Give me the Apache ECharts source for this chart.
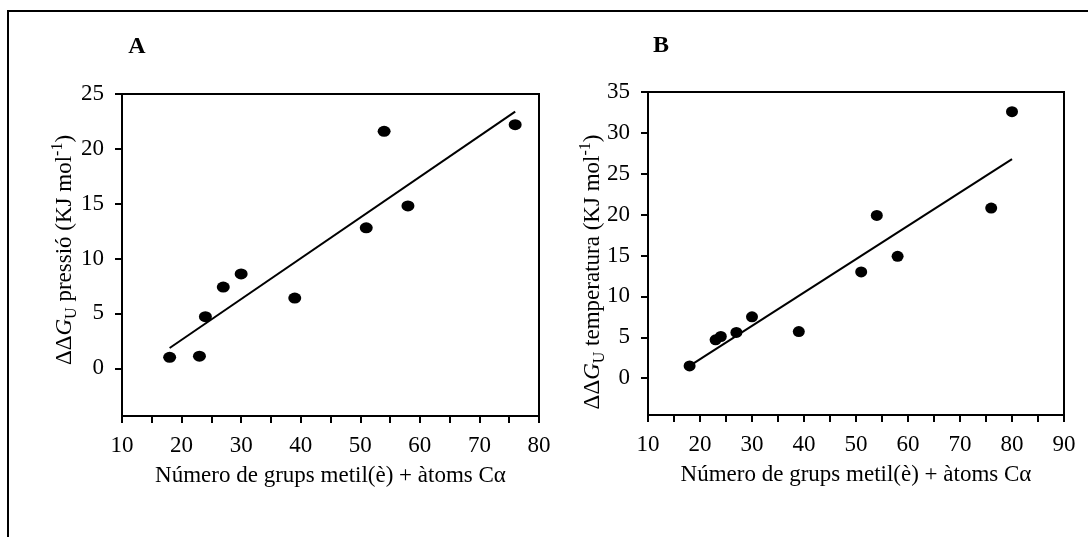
<!DOCTYPE html>
<html>
<head>
<meta charset="utf-8">
<script src="https://cdn.jsdelivr.net/npm/echarts@6/dist/echarts.min.js"></script>
<style>
  html, body { margin: 0; padding: 0; background: #fff; }
  #chart { width: 1088px; height: 537px; }
</style>
</head>
<body>
<div id="chart"></div>
<script>
// Panel A: ΔΔG_U from pressure denaturation vs. methyl groups + Cα atoms
const xPressio = [18, 23, 24, 27, 30, 39, 51, 54, 58, 76];
const yPressio = [1.0, 1.1, 4.7, 7.4, 8.6, 6.4, 12.8, 21.6, 14.8, 22.2];
const fitPressio = [[18, 1.85], [76, 23.4]];

// Panel B: ΔΔG_U from thermal denaturation vs. methyl groups + Cα atoms
const xTemp = [18, 23, 24, 27, 30, 39, 51, 54, 58, 76, 80];
const yTemp = [1.5, 4.7, 5.1, 5.6, 7.5, 5.7, 13.0, 19.9, 14.9, 20.8, 32.6];
const fitTemp = [[18, 1.5], [80, 26.8]];

// Tick positions and labels
const xTicksA = [10, 15, 20, 25, 30, 35, 40, 45, 50, 55, 60, 65, 70, 75, 80];
const xLabelsA = [10, 20, 30, 40, 50, 60, 70, 80];
const yLabelsA = [0, 5, 10, 15, 20, 25];
const xTicksB = [10, 15, 20, 25, 30, 35, 40, 45, 50, 55, 60, 65, 70, 75, 80, 85, 90];
const xLabelsB = [10, 20, 30, 40, 50, 60, 70, 80, 90];
const yLabelsB = [0, 5, 10, 15, 20, 25, 30, 35];

const xName = 'Número de grups metil(è) + àtoms Cα';
const FONT = '"Liberation Serif", "Times New Roman", serif';
const FS = 23;
const INK = '#000';

function xAxisFor(gridIndex, min, max, ticks, labels) {
  return {
    type: 'value', gridIndex, min, max,
    name: xName, nameLocation: 'middle', nameGap: 48,
    nameTextStyle: { fontFamily: FONT, fontSize: FS, color: INK },
    axisLine: { show: true, onZero: false, lineStyle: { color: INK, width: 2 } },
    axisTick: { show: true, inside: false, length: 7, customValues: ticks, lineStyle: { color: INK, width: 2 } },
    axisLabel: { customValues: labels, margin: 18, fontFamily: FONT, fontSize: FS, color: INK },
    splitLine: { show: false }
  };
}

function yAxisFor(gridIndex, min, max, labels) {
  return {
    type: 'value', gridIndex, min, max,
    axisLine: { show: true, onZero: false, lineStyle: { color: INK, width: 2 } },
    axisTick: { show: true, inside: false, length: 7, customValues: labels, lineStyle: { color: INK, width: 2 } },
    axisLabel: { customValues: labels, margin: 18, fontFamily: FONT, fontSize: FS, color: INK },
    splitLine: { show: false }
  };
}

function yName(text) {
  return '{d|ΔΔ}{g|G}{s|U}{d| ' + text + ' (KJ mol}{p|-1}{d|)}';
}
const nameRich = {
  d: { fontFamily: FONT, fontSize: FS, lineHeight: 30, fill: INK },
  g: { fontFamily: FONT, fontSize: FS, fontStyle: 'italic', lineHeight: 30, fill: INK },
  s: { fontFamily: FONT, fontSize: 16, lineHeight: 16, verticalAlign: 'bottom', fill: INK },
  p: { fontFamily: FONT, fontSize: 16, lineHeight: 16, verticalAlign: 'top', fill: INK }
};

const pairs = (xs, ys) => xs.map((x, i) => [x, ys[i]]);

const chart = echarts.init(document.getElementById('chart'), null, { renderer: 'canvas' });
chart.setOption({
  animation: false,
  backgroundColor: '#fff',
  grid: [
    { left: 122, right: 549, top: 94, bottom: 121, show: true, borderColor: INK, borderWidth: 2, backgroundColor: 'transparent' },
    { left: 648, right: 24, top: 92, bottom: 122, show: true, borderColor: INK, borderWidth: 2, backgroundColor: 'transparent' }
  ],
  xAxis: [
    xAxisFor(0, 10, 80, xTicksA, xLabelsA),
    xAxisFor(1, 10, 90, xTicksB, xLabelsB)
  ],
  yAxis: [
    yAxisFor(0, -4.35, 25, yLabelsA),
    yAxisFor(1, -4.5, 35, yLabelsB)
  ],
  series: [
    { type: 'line', xAxisIndex: 0, yAxisIndex: 0, data: fitPressio, showSymbol: false, silent: true,
      lineStyle: { color: INK, width: 2 } },
    { type: 'scatter', xAxisIndex: 0, yAxisIndex: 0, data: pairs(xPressio, yPressio),
      symbol: 'circle', symbolSize: [13, 11], itemStyle: { color: INK, opacity: 1 } },
    { type: 'line', xAxisIndex: 1, yAxisIndex: 1, data: fitTemp, showSymbol: false, silent: true,
      lineStyle: { color: INK, width: 2 } },
    { type: 'scatter', xAxisIndex: 1, yAxisIndex: 1, data: pairs(xTemp, yTemp),
      symbol: 'circle', symbolSize: [12, 11], itemStyle: { color: INK, opacity: 1 } }
  ],
  graphic: [
    { type: 'polyline', shape: { points: [[8, 537], [8, 11], [1088, 11]] },
      style: { stroke: INK, lineWidth: 2, fill: null } },
    { type: 'text', x: 137, y: 47,
      style: { text: 'A', font: 'bold 24px ' + FONT, fill: INK, align: 'center', verticalAlign: 'middle' } },
    { type: 'text', x: 661, y: 46,
      style: { text: 'B', font: 'bold 24px ' + FONT, fill: INK, align: 'center', verticalAlign: 'middle' } },
    { type: 'text', x: 65, y: 250, rotation: Math.PI / 2,
      style: { text: yName('pressió'), rich: nameRich, align: 'center', verticalAlign: 'middle' } },
    { type: 'text', x: 593, y: 272, rotation: Math.PI / 2,
      style: { text: yName('temperatura'), rich: nameRich, align: 'center', verticalAlign: 'middle' } }
  ]
});
</script>
</body>
</html>
